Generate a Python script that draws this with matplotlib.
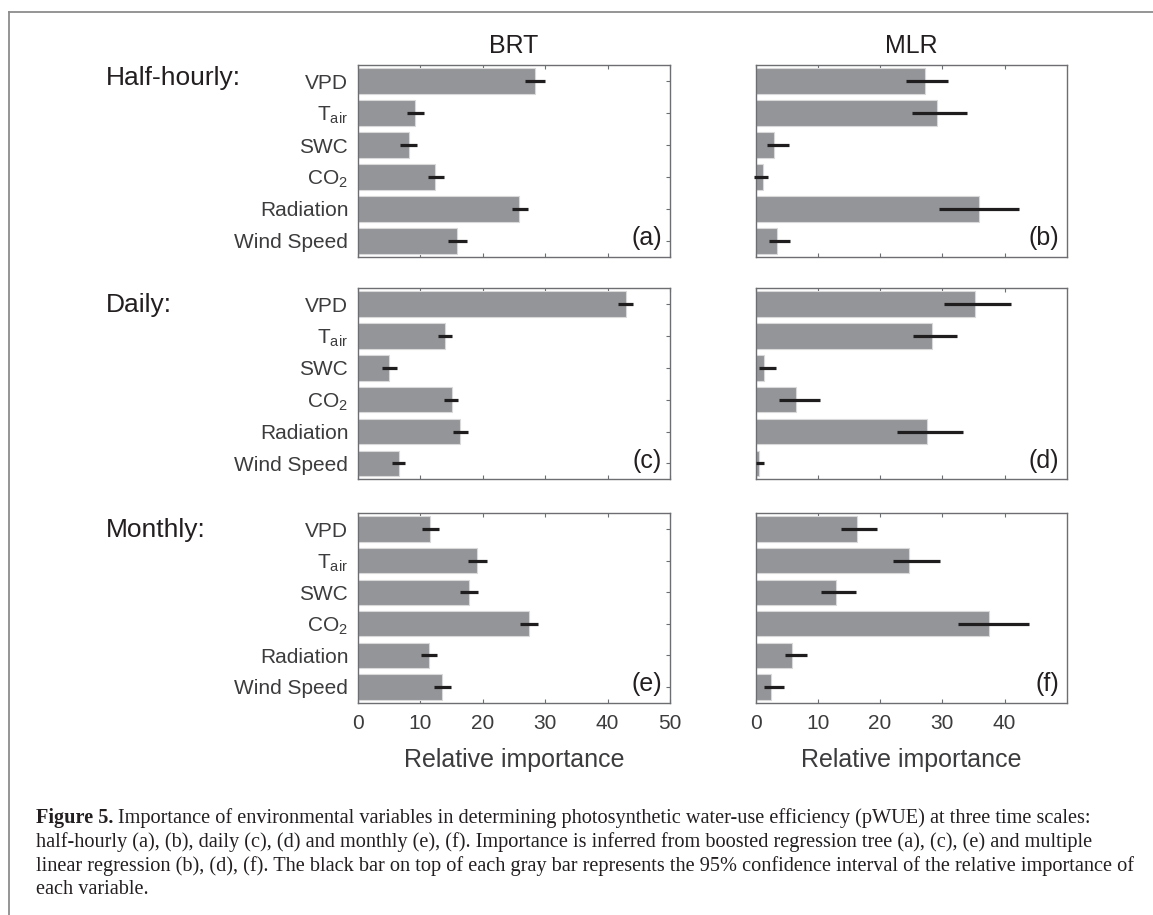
import matplotlib
matplotlib.use('Agg')
import matplotlib.pyplot as plt
from matplotlib.lines import Line2D
import numpy as np

plt.rcParams['font.family'] = ['Liberation Sans', 'DejaVu Sans']
plt.rcParams['mathtext.fontset'] = 'custom'
plt.rcParams['mathtext.rm'] = 'Liberation Sans'
plt.rcParams['mathtext.it'] = 'Liberation Sans:italic'
plt.rcParams['mathtext.bf'] = 'Liberation Sans:bold'

# ---------------- data ----------------
variables = ['VPD', 'T$_{\\mathrm{air}}$', 'SWC', 'CO$_{\\mathrm{2}}$', 'Radiation', 'Wind Speed']
timescales = ['Half-hourly:', 'Daily:', 'Monthly:']
models = ['BRT', 'MLR']
panel_letters = [['(a)', '(b)'], ['(c)', '(d)'], ['(e)', '(f)']]
xticks_brt = [0, 10, 20, 30, 40, 50]
xticks_mlr = [0, 10, 20, 30, 40]

# BRT
brt_half = [28.3, 9.2, 8.1, 12.4, 25.8, 15.9]
brt_half_lo = [26.8, 7.9, 6.7, 11.2, 24.6, 14.4]
brt_half_hi = [29.9, 10.5, 9.4, 13.8, 27.2, 17.5]

brt_daily = [42.9, 13.9, 5.0, 15.0, 16.3, 6.6]
brt_daily_lo = [41.7, 12.9, 3.8, 13.8, 15.2, 5.5]
brt_daily_hi = [44.1, 15.1, 6.2, 16.1, 17.6, 7.6]

brt_month = [11.5, 19.1, 17.8, 27.4, 11.3, 13.5]
brt_month_lo = [10.2, 17.7, 16.4, 25.9, 10.1, 12.2]
brt_month_hi = [13.0, 20.6, 19.3, 28.9, 12.6, 14.9]

# MLR
mlr_half = [27.2, 29.2, 3.0, 1.1, 35.9, 3.4]
mlr_half_lo = [24.2, 25.1, 1.8, -0.2, 29.5, 2.1]
mlr_half_hi = [30.9, 33.9, 5.3, 2.0, 42.4, 5.5]

mlr_daily = [35.3, 28.4, 1.4, 6.5, 27.6, 0.6]
mlr_daily_lo = [30.3, 25.3, 0.5, 3.8, 22.7, 0.0]
mlr_daily_hi = [41.0, 32.4, 3.2, 10.4, 33.4, 1.3]

mlr_month = [16.3, 24.7, 12.9, 37.5, 5.8, 2.5]
mlr_month_lo = [13.7, 22.0, 10.5, 32.6, 4.7, 1.3]
mlr_month_hi = [19.5, 29.7, 16.2, 44.0, 8.2, 4.5]

caption_bold = 'Figure 5.'
caption_lines = [
    'Importance of environmental variables in determining photosynthetic water-use efficiency (pWUE) at three time scales:',
    'half-hourly (a), (b), daily (c), (d) and monthly (e), (f). Importance is inferred from boosted regression tree (a), (c), (e) and multiple',
    'linear regression (b), (d), (f). The black bar on top of each gray bar represents the 95% confidence interval of the relative importance of',
    'each variable.',
]

panels = [
    [(brt_half, brt_half_lo, brt_half_hi), (mlr_half, mlr_half_lo, mlr_half_hi)],
    [(brt_daily, brt_daily_lo, brt_daily_hi), (mlr_daily, mlr_daily_lo, mlr_daily_hi)],
    [(brt_month, brt_month_lo, brt_month_hi), (mlr_month, mlr_month_lo, mlr_month_hi)],
]

# ---------------- layout ----------------
W, H = 1153, 915
fig = plt.figure(figsize=(W / 100, H / 100), dpi=100)

col_left = [358 / W, 755.7 / W]
col_width = [312 / W, 311 / W]
row_top_px = [65.3, 288.3, 513.3]
row_h_px = [191.4, 191.0, 189.4]
row_label_baseline_px = [85, 312, 537]

bar_color = '#939598'
err_color = '#1f1d1e'
spine_color = '#6d6e71'
label_color = '#3c3c3e'

ypos = np.arange(1, len(variables) + 1)

for r in range(3):
    for c in range(2):
        bottom = 1 - (row_top_px[r] + row_h_px[r]) / H
        ax = fig.add_axes([col_left[c], bottom, col_width[c], row_h_px[r] / H])
        vals, lo, hi = panels[r][c]
        vals = np.array(vals)
        lo = np.array(lo)
        hi = np.array(hi)
        ax.barh(ypos, vals, height=0.8, color=bar_color, edgecolor='#d9d9da',
                linewidth=0.8, zorder=2)
        xerr = np.vstack([vals - lo, hi - vals])
        eb = ax.errorbar(vals, ypos, xerr=xerr, fmt='none', ecolor=err_color,
                         elinewidth=2.3, capsize=0, zorder=3)
        for art in eb.lines[2]:
            art.set_clip_on(False)
        ax.set_xlim(0, 50)
        ax.set_ylim(6.5, 0.5)
        for s in ax.spines.values():
            s.set_color(spine_color)
            s.set_linewidth(1.0)
        if c == 0:
            ax.set_xticks(xticks_brt)
            ax.set_yticks(ypos)
            ax.set_yticklabels(variables)
            ax.tick_params(axis='y', which='both', direction='in', left=True,
                           right=True, length=3, width=0.8, color=spine_color,
                           labelsize=15, labelcolor=label_color, pad=7)
        else:
            ax.set_xticks(xticks_mlr)
            ax.set_yticks([])
        ax.tick_params(axis='x', which='both', direction='in', top=True,
                       bottom=True, length=3, width=0.8, color=spine_color,
                       labelsize=15, labelcolor=label_color, pad=8)
        if r < 2:
            ax.set_xticklabels([])
        ax.text(0.975, 0.035, panel_letters[r][c], transform=ax.transAxes,
                ha='right', va='bottom', fontsize=18, color='#231f20')
        if r == 0:
            fig.text(col_left[c] + col_width[c] / 2, 1 - 46 / H, models[c],
                     ha='center', va='center', fontsize=18, color='#231f20')
        if r == 2:
            fig.text(col_left[c] + col_width[c] / 2, 1 - 767 / H,
                     'Relative importance', ha='center', va='baseline',
                     fontsize=18, color=label_color)
    fig.text(106 / W, 1 - row_label_baseline_px[r] / H, timescales[r],
             ha='left', va='baseline', fontsize=19, color='#231f20')

# ---------------- frame ----------------
fig.add_artist(Line2D([9 / W, 9 / W], [0, 1 - 12 / H], transform=fig.transFigure,
                      color='#8c8c8c', linewidth=1.3))
fig.add_artist(Line2D([9 / W, 1], [1 - 12 / H, 1 - 12 / H], transform=fig.transFigure,
                      color='#8c8c8c', linewidth=1.3))

# ---------------- caption ----------------
cap_font = ['Liberation Serif', 'DejaVu Serif']
renderer = fig.canvas.get_renderer()
probe = fig.text(0, 0, caption_lines[2], fontsize=14, family=cap_font)
wpx = probe.get_window_extent(renderer).width
probe.remove()
cap_size = 14 * (1134 - 36) / wpx

x0 = 36 / W
line_y = [818, 842, 866, 889]
bold_t = fig.text(x0, 1 - line_y[0] / H, caption_bold, fontsize=cap_size,
                  family=cap_font, weight='bold', va='center', color='#231f20')
bw = bold_t.get_window_extent(renderer).width
sp = fig.text(0, 0, 'a a', fontsize=cap_size, family=cap_font)
sp2 = fig.text(0, 0, 'aa', fontsize=cap_size, family=cap_font)
space_w = sp.get_window_extent(renderer).width - sp2.get_window_extent(renderer).width
sp.remove()
sp2.remove()
fig.text(x0 + (bw + space_w) / W, 1 - line_y[0] / H, caption_lines[0],
         fontsize=cap_size, family=cap_font, va='center', color='#231f20')
for i in range(1, 4):
    fig.text(x0, 1 - line_y[i] / H, caption_lines[i], fontsize=cap_size,
             family=cap_font, va='center', color='#231f20')

fig.savefig('out.png', dpi=100)
